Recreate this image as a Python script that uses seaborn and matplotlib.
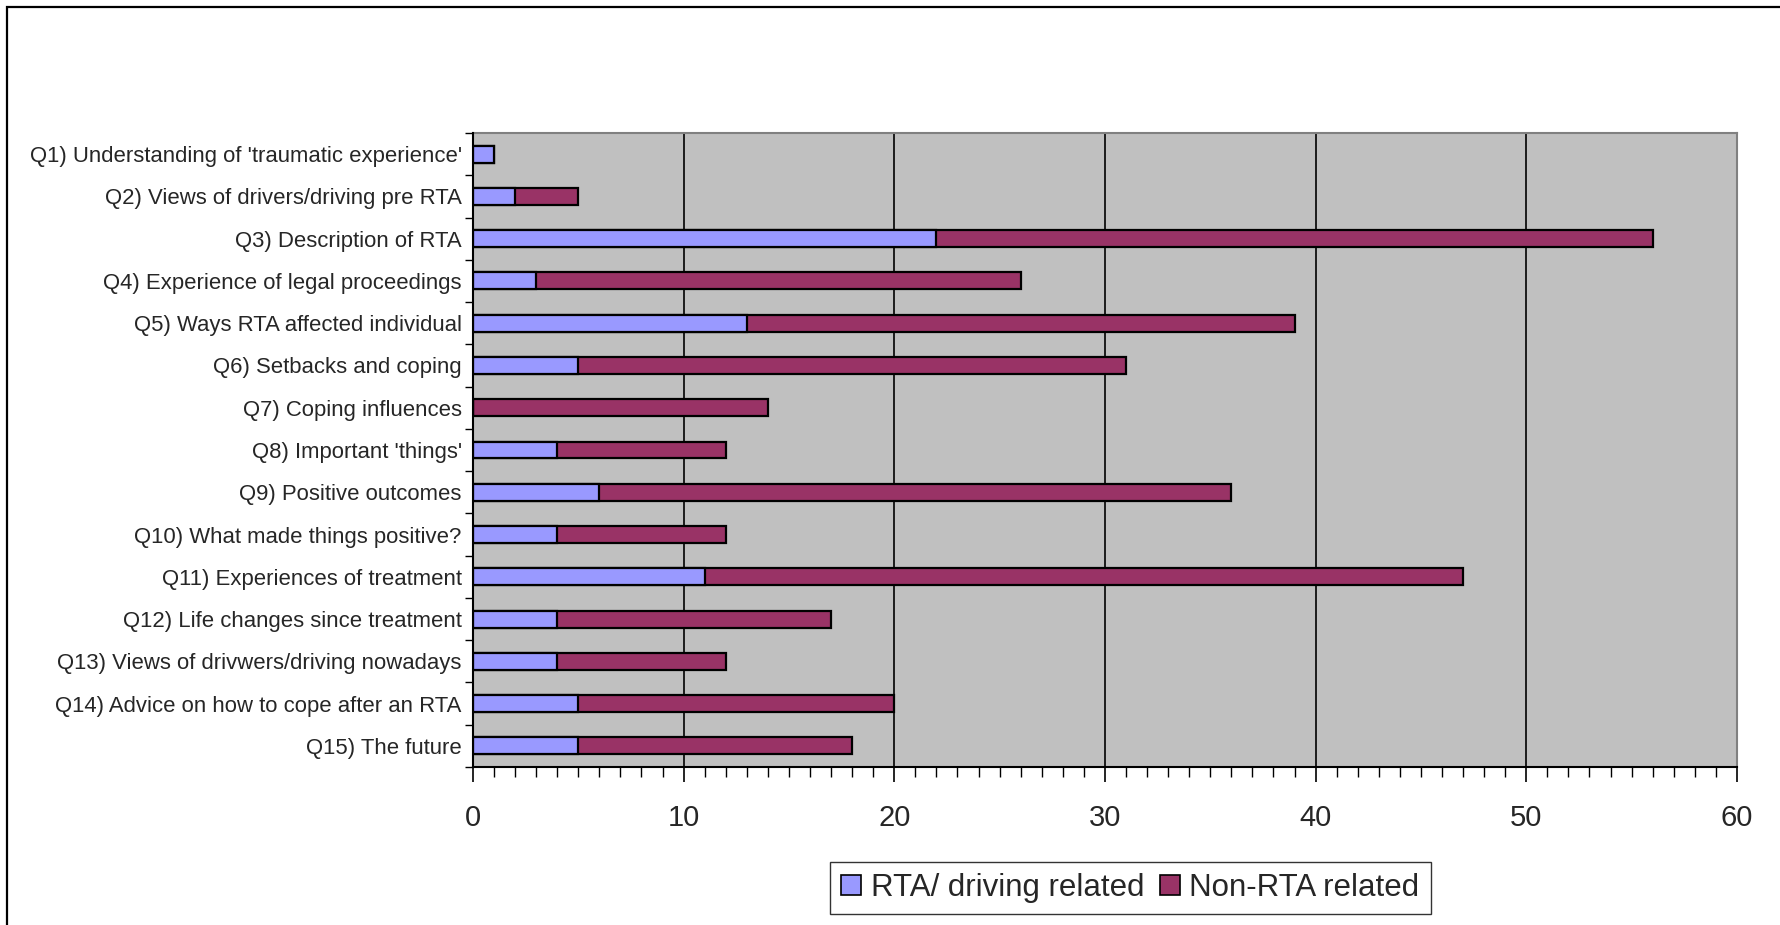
import matplotlib
matplotlib.use("Agg")
import matplotlib.pyplot as plt
import seaborn as sns
import pandas as pd
import numpy as np
from matplotlib.patches import Patch, Rectangle
from matplotlib.ticker import MultipleLocator, FixedLocator

categories = [
    "Q1) Understanding of 'traumatic experience'",
    "Q2) Views of drivers/driving pre RTA",
    "Q3) Description of RTA",
    "Q4) Experience of legal proceedings",
    "Q5) Ways RTA affected individual",
    "Q6) Setbacks and coping",
    "Q7) Coping influences",
    "Q8) Important 'things'",
    "Q9) Positive outcomes",
    "Q10) What made things positive?",
    "Q11) Experiences of treatment",
    "Q12) Life changes since treatment",
    "Q13) Views of drivwers/driving nowadays",
    "Q14) Advice on how to cope after an RTA",
    "Q15) The future",
]
rta = [1, 2, 22, 3, 13, 5, 0, 4, 6, 4, 11, 4, 4, 5, 5]
non_rta = [0, 3, 34, 23, 26, 26, 14, 8, 30, 8, 36, 13, 8, 15, 13]
series_names = ["RTA/ driving related", "Non-RTA related"]
x_ticks = [0, 10, 20, 30, 40, 50, 60]

col_rta = "#9999FF"
col_non = "#993366"

df = pd.DataFrame({"cat": categories, "rta": rta, "non": non_rta})
df["total"] = df["rta"] + df["non"]

sns.set_style("white")
plt.rcParams["font.family"] = ["Liberation Sans", "DejaVu Sans"]

fig = plt.figure(figsize=(17.8, 9.25), dpi=100)
ax = fig.add_axes([0.2657, 0.1708, 0.9758 - 0.2657, 0.8562 - 0.1708])
ax.set_facecolor("#C0C0C0")

sns.barplot(data=df, x="total", y="cat", orient="h", color=col_non, width=0.4,
            edgecolor="black", linewidth=1.6, saturation=1, ax=ax, zorder=3)
sns.barplot(data=df, x="rta", y="cat", orient="h", color=col_rta, width=0.4,
            edgecolor="black", linewidth=1.6, saturation=1, ax=ax, zorder=4)

ax.set_xlim(0, 60)
ax.set_ylim(len(categories) - 0.5, -0.5)
ax.set_xticks(x_ticks)
ax.xaxis.set_minor_locator(MultipleLocator(1))
ax.set_yticks(range(len(categories)))
ax.set_yticklabels(categories, fontsize=15.9)
ax.yaxis.set_minor_locator(FixedLocator(np.arange(-0.5, len(categories), 1.0)))
ax.set_xlabel("")
ax.set_ylabel("")

ax.tick_params(axis="x", which="major", direction="out", length=11, width=1.2,
               color="black", labelsize=21, pad=15.5, bottom=True)
ax.tick_params(axis="x", which="minor", direction="out", length=7, width=1.0,
               color="black", bottom=True)
ax.tick_params(axis="y", which="major", length=0, pad=8, left=False)
ax.tick_params(axis="y", which="minor", direction="out", length=6, width=1.0,
               color="black", left=True)

for xv in x_ticks[1:-1]:
    ax.axvline(xv, color="black", linewidth=1.2, zorder=1)

for side in ["top", "right"]:
    ax.spines[side].set_color("#808080")
    ax.spines[side].set_linewidth(1.5)
for side in ["left", "bottom"]:
    ax.spines[side].set_color("black")
    ax.spines[side].set_linewidth(1.5)
    ax.spines[side].set_zorder(6)

handles = [Patch(facecolor=col_rta, edgecolor="black", linewidth=1.2),
           Patch(facecolor=col_non, edgecolor="black", linewidth=1.2)]
leg = fig.legend(handles, series_names, loc="center", bbox_to_anchor=(0.635, 0.04),
                 ncol=2, fontsize=22.5, frameon=True, fancybox=False, shadow=False,
                 edgecolor="black", handlelength=0.65, handleheight=0.65,
                 handletextpad=0.3, columnspacing=0.5, borderpad=0.35,
                 borderaxespad=0)
leg.get_frame().set_linewidth(1.0)

fig.patches.append(Rectangle((0.004, -0.1), 1.2, 1.092, transform=fig.transFigure,
                             fill=False, edgecolor="black", linewidth=1.6))

fig.savefig("out.png", dpi=100, facecolor="white")
